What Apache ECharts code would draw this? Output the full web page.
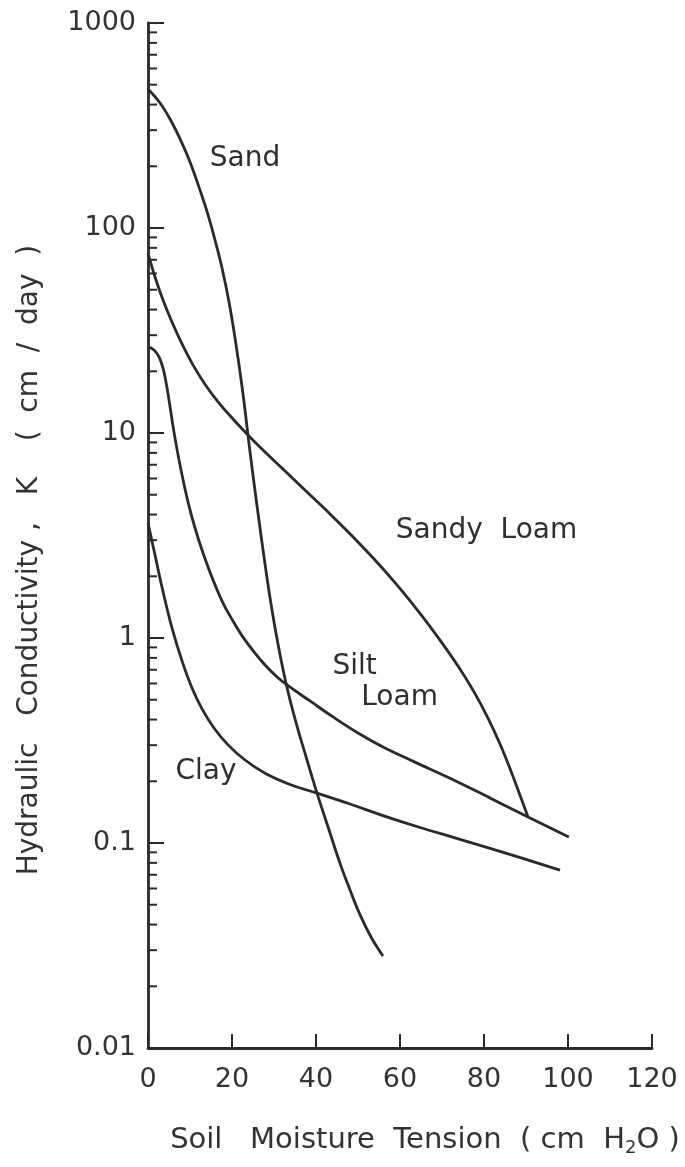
<!DOCTYPE html>
<html>
<head>
<meta charset="utf-8">
<script src="https://cdn.jsdelivr.net/npm/echarts@6/dist/echarts.min.js"></script>
<style>
  html, body { margin: 0; padding: 0; background: #ffffff; }
  #chart { width: 685px; height: 1167px; }
</style>
</head>
<body>
<div id="chart"></div>
<script>
// Soil moisture tension (cm H2O) vs. hydraulic conductivity K (cm/day)
const tensionTicks = [0, 20, 40, 60, 80, 100, 120];
const conductivityTicks = [0.01, 0.1, 1, 10, 100, 1000];
const minorMultipliers = [2, 3, 4, 5, 6, 7, 8, 9];

const sand = [
  [0, 476], [2.86, 407], [5.24, 340], [7.62, 272], [10.0, 210], [12.38, 153],
  [14.29, 116], [15.95, 87.4], [17.62, 63.8], [19.29, 43.6], [20.71, 29.1],
  [21.9, 19.9], [22.86, 14.2], [23.8, 9.77], [25.24, 5.70], [26.67, 3.44],
  [28.1, 2.12], [29.52, 1.37], [30.95, 0.935], [32.38, 0.667], [33.81, 0.499],
  [35.48, 0.372], [37.86, 0.254], [40.24, 0.175], [42.86, 0.120], [45.7, 0.0798],
  [48.1, 0.059], [50.5, 0.0446], [53.1, 0.0348], [55.95, 0.0281]
];
const sandyLoam = [
  [0, 75.5], [1.67, 57.7], [3.57, 44.6], [5.71, 34.8], [8.1, 27.2], [10.71, 21.5],
  [13.57, 17.3], [16.67, 14.2], [20.24, 11.7], [23.8, 9.77], [27.86, 8.07],
  [32.62, 6.53], [37.86, 5.15], [43.33, 4.03], [48.57, 3.15], [54.05, 2.40],
  [59.52, 1.79], [64.76, 1.32], [69.52, 0.977], [73.81, 0.730], [77.62, 0.546],
  [80.95, 0.407], [83.81, 0.304], [86.43, 0.224], [88.57, 0.171], [90.48, 0.134]
];
const siltLoam = [
  [0, 26.3], [1.43, 25.4], [2.62, 23.5], [3.57, 20.7], [4.29, 17.7], [5.0, 14.5],
  [6.19, 10.1], [7.62, 6.98], [9.52, 4.61], [11.19, 3.44], [13.1, 2.60],
  [15.48, 1.92], [17.86, 1.48], [20.24, 1.21], [22.62, 1.01], [25.24, 0.855],
  [27.86, 0.738], [30.48, 0.653], [33.1, 0.590], [38.57, 0.493], [44.05, 0.412],
  [50.0, 0.344], [55.95, 0.294], [63.57, 0.248], [71.9, 0.207], [81.4, 0.166],
  [90.48, 0.134], [100.2, 0.107]
];
const clay = [
  [0, 3.64], [1.67, 2.54], [3.33, 1.77], [5.71, 1.12], [8.1, 0.773], [10.48, 0.570],
  [12.86, 0.451], [15.71, 0.364], [19.05, 0.301], [23.1, 0.254], [27.86, 0.219],
  [33.81, 0.193], [40.24, 0.175], [48.1, 0.155], [55.95, 0.136], [64.76, 0.119],
  [73.1, 0.106], [83.81, 0.091], [98.1, 0.0738]
];

// Curve names placed at points in data space
const curveLabels = [
  { name: 'Sand', value: [23.1, 217] },
  { name: 'Sandy  Loam', value: [80.6, 3.33] },
  { name: 'Silt', value: [49.2, 0.722] },
  { name: 'Loam', value: [59.9, 0.509] },
  { name: 'Clay', value: [13.8, 0.222] }
];

const ink = '#2a2a2a';
const font = 'DejaVu Sans';

// Minor ticks at 2..9 within each decade below the top
const minorTicks = [];
conductivityTicks.slice(0, -1).forEach(d => minorMultipliers.forEach(m => minorTicks.push([0, +(d * m).toPrecision(3)])));

function curve(name, data) {
  return {
    name, type: 'line', data,
    smooth: 0.4,
    symbol: 'none', clip: false,
    lineStyle: { color: ink, width: 2.8 },
    z: 3
  };
}

const chart = echarts.init(document.getElementById('chart'), null, { renderer: 'canvas' });
chart.setOption({
  backgroundColor: '#ffffff',
  animation: false,
  grid: { left: 148, top: 23, width: 504, height: 1025, outerBoundsMode: 'none', containLabel: false },
  xAxis: {
    type: 'value', min: tensionTicks[0], max: tensionTicks[tensionTicks.length - 1], interval: 20,
    axisLine: { lineStyle: { color: ink, width: 2.8 } },
    axisTick: { inside: true, length: 14, lineStyle: { color: ink, width: 2 } },
    axisLabel: { color: '#333', fontFamily: font, fontSize: 27, margin: 18 },
    splitLine: { show: false }
  },
  yAxis: {
    type: 'log', logBase: 10,
    min: conductivityTicks[0], max: conductivityTicks[conductivityTicks.length - 1],
    axisLine: { show: true, lineStyle: { color: ink, width: 2.8 } },
    axisTick: { show: true, inside: true, length: 16, lineStyle: { color: ink, width: 2 } },
    axisLabel: {
      color: '#333', fontFamily: font, fontSize: 27, margin: 12,
      formatter: v => String(+(+v).toPrecision(1))
    },
    splitLine: { show: false }
  },
  series: [
    curve('Sand', sand),
    curve('Sandy Loam', sandyLoam),
    curve('Silt Loam', siltLoam),
    curve('Clay', clay),
    {
      name: 'minor ticks', type: 'custom', clip: false, silent: true,
      data: minorTicks, encode: { x: 0, y: 1 },
      renderItem: (params, api) => {
        const p = api.coord([0, api.value(1)]);
        return {
          type: 'line',
          shape: { x1: p[0], y1: p[1], x2: p[0] + 9, y2: p[1] },
          style: { stroke: ink, lineWidth: 2 }
        };
      },
      z: 2
    },
    {
      name: 'curve names', type: 'scatter', silent: true,
      symbolSize: 1, itemStyle: { color: 'rgba(0,0,0,0)', opacity: 1 },
      data: curveLabels,
      label: {
        show: true, position: 'inside', formatter: '{b}',
        color: '#2f2f2f', fontFamily: font, fontSize: 28
      },
      z: 4
    }
  ],
  graphic: [
    {
      type: 'text', x: 30, y: 560, rotation: Math.PI / 2,
      style: {
        text: 'Hydraulic   Conductivity ,   K    (  cm  /  day  )',
        fill: '#333', font: '28px "DejaVu Sans"',
        align: 'center', verticalAlign: 'middle'
      }
    },
    {
      type: 'text', x: 425, y: 1140,
      style: {
        text: '{t|Soil   Moisture  Tension  ( cm  H}{s|2}{t|O )}',
        align: 'center', verticalAlign: 'middle',
        rich: {
          t: { fill: '#333', fontFamily: font, fontSize: 29 },
          s: { fill: '#333', fontFamily: font, fontSize: 18, padding: [16, 0, 0, 0] }
        }
      }
    }
  ]
});
</script>
</body>
</html>
